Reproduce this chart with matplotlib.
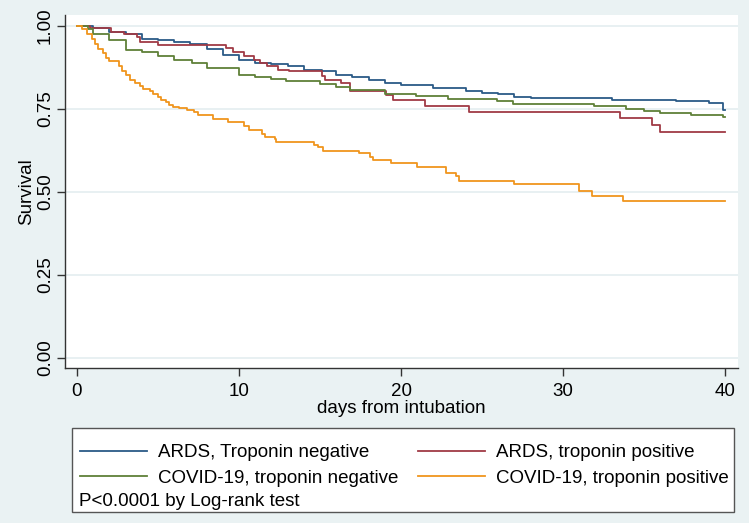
import matplotlib
matplotlib.use("Agg")
import matplotlib.pyplot as plt
from matplotlib.patches import Rectangle

plt.rcParams['font.family'] = ['Liberation Sans', 'DejaVu Sans']

# Kaplan-Meier steps (time in days, survival after the step)
ards_neg_t = [0, 1.0, 2.0, 3.0, 4.0, 5.0, 6.0, 7.0, 8.0, 9.0, 10.0, 11.0, 12.0, 13.0, 14.0,
              15.1, 16.0, 17.0, 18.0, 19.0, 20.0, 22.0, 24.0, 25.0, 26.0, 27.0, 28.0, 33.0,
              37.0, 39.0, 39.9, 40]
ards_neg_s = [1.0, 0.993, 0.983, 0.976, 0.962, 0.958, 0.953, 0.945, 0.931, 0.913, 0.898, 0.889,
              0.884, 0.878, 0.868, 0.863, 0.852, 0.847, 0.838, 0.829, 0.823, 0.812, 0.804, 0.799,
              0.794, 0.787, 0.783, 0.778, 0.773, 0.767, 0.748, 0.748]

ards_pos_t = [0, 0.8, 2.1, 2.9, 3.7, 3.9, 5.0, 9.2, 9.65, 10.3, 10.9, 11.3, 11.7, 12.4, 13.1,
              15.1, 15.3, 16.3, 16.85, 19.1, 19.5, 21.5, 24.2, 33.5, 35.5, 36.0, 40]
ards_pos_s = [1.0, 0.993, 0.983, 0.976, 0.968, 0.951, 0.943, 0.933, 0.923, 0.91, 0.898, 0.887,
              0.878, 0.867, 0.863, 0.848, 0.837, 0.827, 0.803, 0.793, 0.776, 0.759, 0.742, 0.722,
              0.703, 0.680, 0.680]

covid_neg_t = [0, 0.7, 1.0, 1.95, 3.0, 4.0, 5.0, 6.0, 7.1, 8.0, 10.0, 11.0, 12.0, 12.9, 15.0,
               16.0, 16.85, 19.0, 20.9, 22.9, 25.9, 26.9, 31.9, 33.9, 35.0, 36.0, 37.9, 39.9, 40]
covid_neg_s = [1.0, 0.99, 0.977, 0.957, 0.929, 0.922, 0.910, 0.896, 0.889, 0.873, 0.852, 0.846,
               0.839, 0.834, 0.825, 0.817, 0.806, 0.796, 0.788, 0.781, 0.773, 0.765, 0.758, 0.749,
               0.744, 0.737, 0.732, 0.726, 0.726]

covid_pos_t = [0, 0.3, 0.6, 0.9, 1.1, 1.3, 1.6, 1.8, 2.0, 2.6, 2.8, 3.0, 3.3, 3.6, 3.9, 4.1,
               4.5, 4.7, 5.0, 5.2, 5.5, 5.7, 5.9, 6.3, 6.8, 7.2, 7.5, 8.4, 9.3, 10.3, 10.6, 11.4,
               11.6, 12.2, 12.3, 14.6, 14.9, 15.2, 17.4, 18.1, 18.25, 19.4, 21.0, 22.75, 23.4,
               23.6, 27.0, 31.0, 31.8, 33.7, 40]
covid_pos_s = [1.0, 0.99, 0.975, 0.96, 0.945, 0.93, 0.918, 0.905, 0.893, 0.88, 0.865, 0.852,
               0.838, 0.827, 0.82, 0.81, 0.805, 0.795, 0.785, 0.777, 0.772, 0.762, 0.757, 0.752,
               0.746, 0.741, 0.733, 0.72, 0.712, 0.70, 0.688, 0.676, 0.667, 0.659, 0.651, 0.643,
               0.634, 0.624, 0.616, 0.606, 0.595, 0.586, 0.575, 0.556, 0.548, 0.533, 0.523, 0.502,
               0.488, 0.474, 0.474]

labels = ["ARDS, Troponin negative", "ARDS, troponin positive",
          "COVID-19, troponin negative", "COVID-19, troponin positive"]
colors = ['#2b5a87', '#a03a45', '#5f8038', '#f0951e']

x_ticks = [0, 10, 20, 30, 40]
y_ticks = [0.0, 0.25, 0.5, 0.75, 1.0]
y_tick_labels = ["0.00", "0.25", "0.50", "0.75", "1.00"]

FS = 13.5
W, H = 749, 523
fig = plt.figure(figsize=(W / 100, H / 100), dpi=100, facecolor='#eaf2f3')
ax = fig.add_axes([65 / W, 1 - 368 / H, 673 / W, 353 / H])
ax.set_facecolor('white')

series = [(ards_neg_t, ards_neg_s), (ards_pos_t, ards_pos_s),
          (covid_neg_t, covid_neg_s), (covid_pos_t, covid_pos_s)]
handles = []
for (t, s), c, lab in zip(series, colors, labels):
    h, = ax.step(t, s, where='post', color=c, lw=1.3, label=lab)
    handles.append(h)

ax.set_xlim(-0.74, 40.8)
ax.set_ylim(-0.03, 1.033)
ax.set_xticks(x_ticks)
ax.set_yticks(y_ticks)
ax.set_yticklabels(y_tick_labels, rotation=90, va='center')
ax.tick_params(labelsize=FS, length=6, width=1, color='#333333', direction='out')
ax.tick_params(axis='x', pad=5)
ax.tick_params(axis='y', pad=2)
ax.grid(axis='y', color='#e8f0f2', lw=1.4)
ax.set_axisbelow(True)
for side in ['top', 'right']:
    ax.spines[side].set_visible(False)
for side in ['left', 'bottom']:
    ax.spines[side].set_color('#333333')
    ax.spines[side].set_linewidth(1)

ax.set_xlabel("days from intubation", fontsize=FS, labelpad=0)
ax.set_ylabel("Survival", fontsize=FS)
ax.yaxis.set_label_coords((35 - 65) / 673, 0.5)

# legend box; legend fills column by column, so reorder to get rows like the reference
fig.patches.append(Rectangle((72 / W, 1 - 512 / H), (734 - 72) / W, (512 - 428) / H,
                             transform=fig.transFigure, facecolor='white',
                             edgecolor='#555555', lw=1, zorder=1))
order = [0, 2, 1, 3]
fig.legend([handles[i] for i in order], [labels[i] for i in order], ncol=2,
           frameon=False, loc='upper left',
           bbox_to_anchor=(80 / W, 1 - 444 / H), borderpad=0, borderaxespad=0,
           handlelength=3.55, handletextpad=0.62, columnspacing=1.05,
           labelspacing=0.45, fontsize=FS)
fig.text(79 / W, 1 - 501 / H, "P<0.0001 by Log-rank test", va='center', fontsize=FS)

fig.savefig("out.png", dpi=100, facecolor=fig.get_facecolor())
